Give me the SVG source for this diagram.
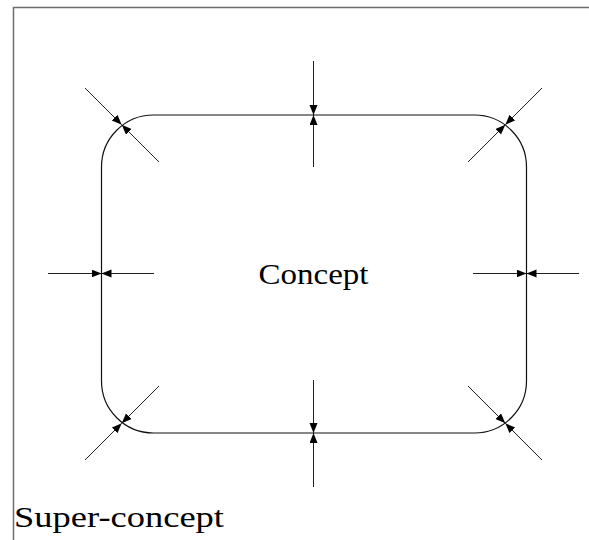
<svg xmlns="http://www.w3.org/2000/svg" width="589" height="540" viewBox="0 0 589 540">
  <style>
    .frame { fill: none; stroke: #6e6e6e; stroke-width: 1.5; }
    .concept { fill: none; stroke: #111; stroke-width: 1.2; }
    .lbl { font-family: "Liberation Serif", "DejaVu Serif", serif; fill: #000; }
    .arr { stroke: #222; stroke-width: 1; fill: none; marker-end: url(#ah); }
  </style>
  <defs>
    <marker id="ah" markerUnits="userSpaceOnUse" markerWidth="11" markerHeight="9" refX="10" refY="4" orient="auto">
      <path d="M0,0 L10,4 L0,8 z" fill="#000"/>
    </marker>
  </defs>
  <rect width="589" height="540" fill="#fff"/>
  <g id="super-concept">
    <path class="frame" d="M13.5,540 L13.5,7.5 L589,7.5"/>
    <text class="lbl" x="14" y="527" font-size="29" textLength="210" lengthAdjust="spacingAndGlyphs">Super-concept</text>
  </g>
  <g id="concept">
    <rect class="concept" x="101.5" y="115" width="425" height="318" rx="52" ry="52"/>
    <text class="lbl" x="313.5" y="284" font-size="29" text-anchor="middle" textLength="110" lengthAdjust="spacingAndGlyphs">Concept</text>
  </g>
  <g id="connectors">
    <!-- top -->
    <line class="arr" x1="313.5" y1="61" x2="313.5" y2="115"/>
    <line class="arr" x1="313.5" y1="167" x2="313.5" y2="115"/>
    <!-- bottom -->
    <line class="arr" x1="313.5" y1="487" x2="313.5" y2="433"/>
    <line class="arr" x1="313.5" y1="380" x2="313.5" y2="433"/>
    <!-- left -->
    <line class="arr" x1="48" y1="273.5" x2="101.5" y2="273.5"/>
    <line class="arr" x1="154" y1="273.5" x2="101.5" y2="273.5"/>
    <!-- right -->
    <line class="arr" x1="579" y1="273.5" x2="526.5" y2="273.5"/>
    <line class="arr" x1="473" y1="273.5" x2="526.5" y2="273.5"/>
    <!-- top-left -->
    <line class="arr" x1="85" y1="88" x2="121.7" y2="124.7"/>
    <line class="arr" x1="159" y1="162" x2="121.7" y2="124.7"/>
    <!-- top-right -->
    <line class="arr" x1="542" y1="88" x2="505.3" y2="124.7"/>
    <line class="arr" x1="468" y1="162" x2="505.3" y2="124.7"/>
    <!-- bottom-left -->
    <line class="arr" x1="85" y1="460" x2="121.7" y2="423.3"/>
    <line class="arr" x1="159" y1="386" x2="121.7" y2="423.3"/>
    <!-- bottom-right -->
    <line class="arr" x1="542" y1="460" x2="505.3" y2="423.3"/>
    <line class="arr" x1="468" y1="386" x2="505.3" y2="423.3"/>
  </g>
</svg>
